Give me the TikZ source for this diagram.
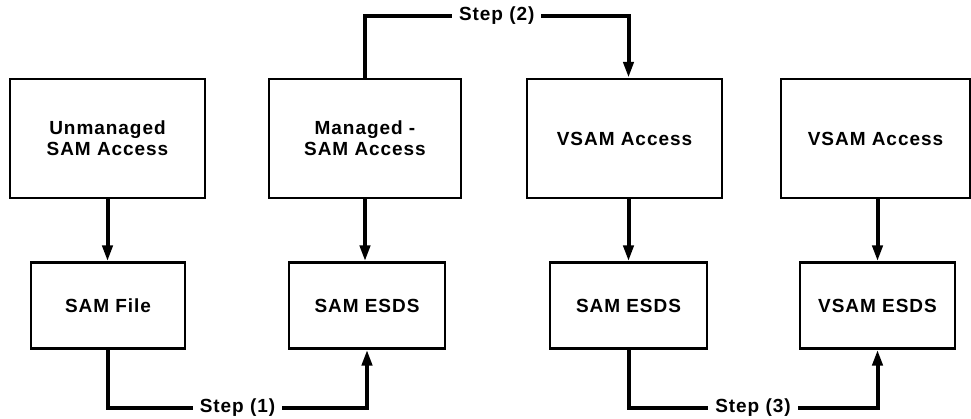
\documentclass[tikz,border=0pt]{standalone}
\usepackage{fontspec}
\setmainfont{Liberation Sans}
\newfontfamily\labelfont[LetterSpace=5]{Liberation Sans}
\usetikzlibrary{arrows.meta}
\begin{document}
\begin{tikzpicture}[x=1pt,y=1pt,
  txt/.style={font=\labelfont\bfseries\fontsize{19}{21}\selectfont},
  box/.style={draw, line width=2.3pt, align=center, inner sep=0pt, txt},
  topbox/.style={box, minimum height=119pt},
  lowbox/.style={box, minimum height=86pt},
  flow/.style={line width=4pt, -{Triangle[length=16pt,width=10pt]}},
  steplink/.style={line width=4pt, line join=miter, -{Triangle[length=16pt,width=10pt]}},
  steplabel/.style={fill=white, inner xsep=7pt, inner ysep=2pt, txt}]
\useasboundingbox (0,0) rectangle (971,418);

% upper row: access methods
\node[topbox, minimum width=195pt] (ua) at (107.5,279.5) {Unmanaged\\SAM Access};
\node[topbox, minimum width=192pt] (ma) at (365,279.5) {Managed -\\SAM Access};
\node[topbox, minimum width=195pt] (va1) at (624.5,279.5) {VSAM Access};
\node[topbox, minimum width=189pt] (va2) at (875.5,279.5) {VSAM Access};

% lower row: data sets
\node[lowbox, minimum width=154pt] (sf) at (108,112.5) {SAM File};
\node[lowbox, minimum width=156pt] (se1) at (367,112.5) {SAM ESDS};
\node[lowbox, minimum width=157pt] (se2) at (628.5,112.5) {SAM ESDS};
\node[lowbox, minimum width=155pt] (ve) at (877.5,112.5) {VSAM ESDS};

% access -> data set
\draw[flow] (ua.south) -- (ua.south |- sf.north);
\draw[flow] (ma.south) -- (ma.south |- se1.north);
\draw[flow] (se2.north |- va1.south) -- (se2.north);
\draw[flow] (ve.north |- va2.south) -- (ve.north);

% migration steps
\coordinate (low) at (0,10.5);
\coordinate (high) at (0,402);
\draw[steplink] (sf.south) -- (sf.south |- low)
  -- node[steplabel]{Step (1)} (se1.south |- low) -- (se1.south);
\draw[steplink] (ma.north) -- (ma.north |- high)
  -- node[steplabel]{Step (2)} (se2.north |- high) -- (se2.north |- va1.north);
\draw[steplink] (se2.south) -- (se2.south |- low)
  -- node[steplabel]{Step (3)} (ve.south |- low) -- (ve.south);
\end{tikzpicture}
\end{document}
